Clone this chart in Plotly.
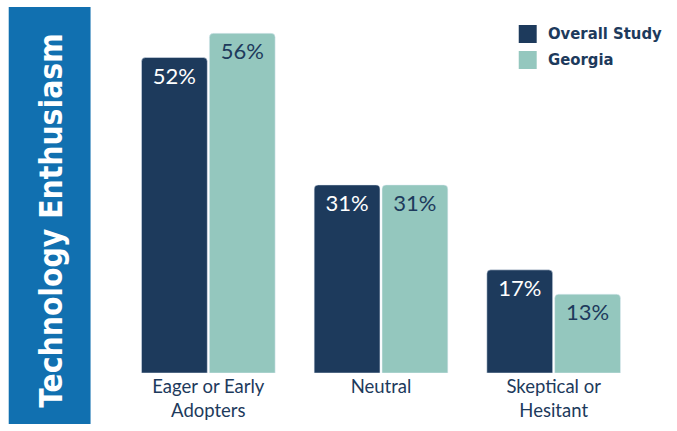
import plotly.graph_objects as go

categories = ["Eager or Early<br>Adopters", "Neutral", "Skeptical or<br>Hesitant"]
overall = [52, 31, 17]
georgia = [56, 31, 13]
series_names = ["Overall Study", "Georgia"]

NAVY = "#1D3A5C"
TEAL = "#94C7BE"
PANEL = "#1170B0"
COND = "DejaVu Sans Condensed, Roboto, sans-serif"

W, H = 677, 431
L, R, T, B = 121.5, 36.5, 9, 58
pw, ph = W - L - R, H - T - B

def px(x):
    return (x - L) / pw

def py(y):
    return (H - B - y) / ph

fig = go.Figure()
fig.add_trace(go.Bar(x=categories, y=overall, name=series_names[0], marker_color=NAVY,
                     text=[f"{v}%" for v in overall], textposition="inside", insidetextanchor="end",
                     textfont=dict(color="white", size=22, family="Lato"), showlegend=False))
fig.add_trace(go.Bar(x=categories, y=georgia, name=series_names[1], marker_color=TEAL,
                     text=[f"{v}%" for v in georgia], textposition="inside", insidetextanchor="end",
                     textfont=dict(color=NAVY, size=22, family="Lato"), showlegend=False))

shapes = [
    dict(type="rect", xref="paper", yref="paper", x0=px(8), x1=px(90), y0=py(424), y1=py(7),
         fillcolor=PANEL, line_width=0, layer="below"),
    dict(type="rect", xref="paper", yref="paper", x0=px(519), x1=px(537), y0=py(43), y1=py(25),
         fillcolor=NAVY, line_width=0),
    dict(type="rect", xref="paper", yref="paper", x0=px(519), x1=px(537), y0=py(69), y1=py(51),
         fillcolor=TEAL, line_width=0),
]
annotations = [
    dict(text="<b>Technology Enthusiasm</b>", xref="paper", yref="paper", x=px(50), y=py(221),
         textangle=-90, showarrow=False, font=dict(color="white", size=31.5, family=COND),
         xanchor="center", yanchor="middle"),
    dict(text="<b>" + series_names[0] + "</b>", xref="paper", yref="paper", x=px(546), y=py(34),
         showarrow=False, xanchor="left", yanchor="middle",
         font=dict(color=NAVY, size=16.5, family=COND)),
    dict(text="<b>" + series_names[1] + "</b>", xref="paper", yref="paper", x=px(546), y=py(60),
         showarrow=False, xanchor="left", yanchor="middle",
         font=dict(color=NAVY, size=16.5, family=COND)),
]

fig.update_layout(
    width=W, height=H,
    margin=dict(l=L, r=R, t=T, b=B, pad=0),
    paper_bgcolor="white", plot_bgcolor="white",
    barmode="group", bargap=0.214, bargroupgap=0.03,
    barcornerradius=4,
    shapes=shapes, annotations=annotations,
    uniformtext=dict(mode=False),
)
fig.update_xaxes(showgrid=False, showline=False, ticks="", tickfont=dict(family="Lato", size=18.5, color=NAVY),
                 range=[-0.5, 2.5])
fig.update_yaxes(range=[0, 60], visible=False)

fig.write_html("out.html")
